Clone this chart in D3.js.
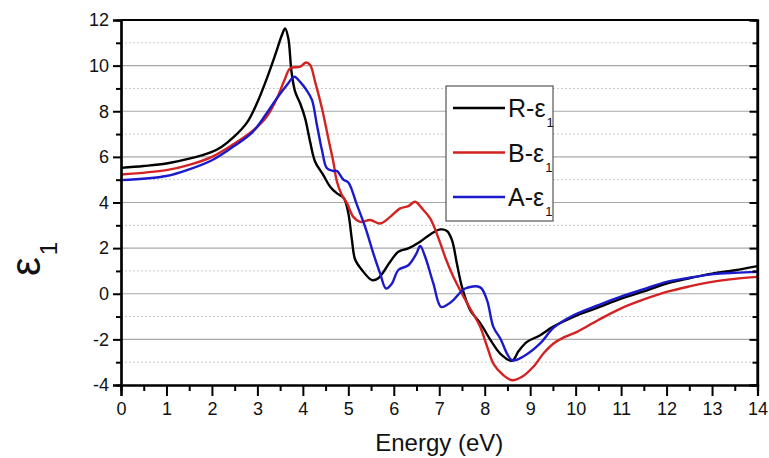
<!DOCTYPE html>
<html><head><meta charset="utf-8">
<script src="https://cdn.jsdelivr.net/npm/d3@7"></script>
<style>
html,body{margin:0;padding:0;background:#fff;}
svg{display:block;}
text{font-family:"Liberation Sans",Arial,sans-serif;fill:#111;}
</style></head>
<body><svg id="chart" width="769" height="458"></svg>
<script>
// ---- data ----
const seriesNames = ["R-ε", "B-ε", "A-ε"];
const seriesColors = ["#000000", "#d42222", "#1a1acc"];

const energyR = [0,0.5,1.0,1.5,2.0,2.2,2.47,2.77,2.99,3.2,3.39,3.54,3.61,3.68,3.75,3.83,3.94,4.05,4.16,4.27,4.45,4.6,4.75,4.9,5.0,5.08,5.15,5.3,5.52,5.66,5.92,6.1,6.32,6.58,6.8,7.02,7.17,7.28,7.39,7.5,7.68,7.9,8.15,8.34,8.6,8.75,8.93,9.22,9.5,9.95,10.5,11.0,11.5,12.0,12.5,13.0,13.5,14.0];
const epsR    = [5.52,5.6,5.71,5.92,6.22,6.42,6.85,7.5,8.35,9.4,10.46,11.34,11.63,11.2,9.73,8.86,8.35,7.69,6.66,5.79,5.2,4.69,4.4,4.2,3.53,2.35,1.5,1.04,0.6,0.68,1.4,1.84,1.99,2.28,2.6,2.82,2.75,2.35,1.3,0.3,-0.72,-1.29,-2.1,-2.62,-2.94,-2.5,-2.11,-1.82,-1.45,-1.01,-0.6,-0.21,0.1,0.45,0.68,0.88,1.03,1.21];

const energyB = [0,1.0,1.5,2.0,2.47,2.9,3.2,3.43,3.61,3.72,3.94,4.07,4.16,4.27,4.42,4.56,4.67,4.75,4.86,4.97,5.11,5.26,5.48,5.7,5.92,6.14,6.32,6.47,6.62,6.8,6.98,7.15,7.31,7.5,7.68,7.9,8.05,8.2,8.4,8.6,8.82,9.07,9.3,9.5,9.75,10.03,10.5,11.0,11.5,12.0,12.5,13.0,13.5,14.0];
const epsB    = [5.23,5.42,5.65,6.0,6.55,7.15,7.75,8.57,9.44,9.88,9.95,10.14,10.03,9.29,8.13,6.81,5.79,4.91,4.32,3.97,3.37,3.15,3.23,3.08,3.37,3.74,3.84,4.03,3.74,3.3,2.45,1.5,0.74,0.0,-0.65,-1.45,-2.3,-3.1,-3.55,-3.79,-3.64,-3.2,-2.6,-2.2,-1.9,-1.67,-1.15,-0.64,-0.25,0.08,0.32,0.52,0.65,0.74];

const energyA = [0,1.0,1.5,2.0,2.47,2.9,3.2,3.43,3.65,3.81,3.94,4.08,4.2,4.3,4.42,4.53,4.67,4.75,4.89,5.0,5.18,5.37,5.55,5.7,5.83,5.96,6.1,6.32,6.5,6.58,6.69,6.87,7.04,7.2,7.31,7.57,7.9,8.05,8.19,8.34,8.6,8.85,9.22,9.51,9.95,10.5,10.98,11.5,12.0,12.5,13.03,13.5,14.0];
const epsA    = [4.98,5.16,5.45,5.85,6.45,7.1,7.9,8.57,9.15,9.51,9.29,8.93,8.5,7.5,6.3,5.5,5.38,5.38,5.0,4.88,3.95,2.93,1.77,0.89,0.23,0.45,1.04,1.25,1.77,2.1,1.62,0.45,-0.58,-0.45,-0.28,0.23,0.28,-0.28,-1.45,-1.95,-2.91,-2.75,-2.18,-1.5,-0.94,-0.5,-0.14,0.2,0.52,0.7,0.86,0.92,0.96];

const xTicks = [0,1,2,3,4,5,6,7,8,9,10,11,12,13,14];
const yTicks = [-4,-2,0,2,4,6,8,10,12];
const xLabel = "Energy (eV)";

// ---- layout ----
const svg = d3.select("#chart");
const L = 121, R = 757.5, T = 20, B = 385;
const x = d3.scaleLinear().domain([0,14]).range([L,R]);
const y = d3.scaleLinear().domain([-4,12]).range([B,T]);

const minorY = d3.range(-3, 12, 2);
const minorX = d3.range(0.5, 14, 1);
const fmt = d => String(d);

// gridlines
const g = svg.append("g");
g.selectAll(".gmaj").data(yTicks.filter(v=>v>-4 && v<12)).enter().append("line")
  .attr("x1",L).attr("x2",R).attr("y1",d=>y(d)).attr("y2",d=>y(d))
  .attr("stroke","#a8a8a8").attr("stroke-width",1.2);
g.selectAll(".gmin").data(minorY).enter().append("line")
  .attr("x1",L).attr("x2",R).attr("y1",d=>y(d)).attr("y2",d=>y(d))
  .attr("stroke","#c8c8c8").attr("stroke-width",1).attr("stroke-dasharray","2,2");

// curves
const series = [
  {e: energyR, v: epsR},
  {e: energyB, v: epsB},
  {e: energyA, v: epsA}
];
const line = d3.line().x(d=>x(d[0])).y(d=>y(d[1])).curve(d3.curveCatmullRom.alpha(0.5));
series.forEach((s,i)=>{
  const pts = s.e.map((e,j)=>[e, s.v[j]]);
  svg.append("path").datum(pts).attr("d",line)
    .attr("fill","none").attr("stroke",seriesColors[i]).attr("stroke-width",2.4)
    .attr("stroke-linejoin","round");
});

// axes
const fs = 18;
const xAxis = d3.axisBottom(x).tickValues(xTicks).tickSize(11).tickPadding(6).tickFormat(fmt);
svg.append("g").attr("transform",`translate(0,${B})`).call(xAxis);
const xMinor = d3.axisBottom(x).tickValues(minorX).tickSize(6).tickFormat("");
svg.append("g").attr("transform",`translate(0,${B})`).call(xMinor);

const yAxis = d3.axisLeft(y).tickValues(yTicks).tickSize(8).tickPadding(4).tickFormat(fmt);
svg.append("g").attr("transform",`translate(${L},0)`).call(yAxis);
const yMinor = d3.axisLeft(y).tickValues(minorY).tickSize(5).tickFormat("");
svg.append("g").attr("transform",`translate(${L},0)`).call(yMinor);

const yR = d3.axisLeft(y).tickValues(yTicks).tickSize(8).tickFormat("");
svg.append("g").attr("transform",`translate(${R},0)`).call(yR);
const yRm = d3.axisLeft(y).tickValues(minorY).tickSize(5).tickFormat("");
svg.append("g").attr("transform",`translate(${R},0)`).call(yRm);

svg.selectAll(".domain").attr("stroke","#000").attr("stroke-width",2.2);
svg.selectAll(".tick line").attr("stroke","#000").attr("stroke-width",2);
svg.selectAll(".tick text").attr("font-size",fs).attr("font-family",null).style("fill","#111");

// frame top/right
svg.append("line").attr("x1",L).attr("x2",R).attr("y1",T).attr("y2",T).attr("stroke","#000").attr("stroke-width",2.2);
svg.append("line").attr("x1",R).attr("x2",R).attr("y1",T).attr("y2",B).attr("stroke","#000").attr("stroke-width",2.2);

// axis titles
svg.append("text").attr("x",(L+R)/2).attr("y",451).attr("text-anchor","middle")
  .attr("font-size",24).text(xLabel);

const yl = svg.append("text").attr("transform","translate(40,276) rotate(-90)");
yl.append("tspan").attr("font-size",42).text("ε");
yl.append("tspan").attr("font-size",24).attr("dy",17).attr("dx",2).text("1");

// legend
const lg = svg.append("g");
lg.append("rect").attr("x",446).attr("y",86).attr("width",107).attr("height",135)
  .attr("fill","#fff").attr("stroke","#555").attr("stroke-width",1.2);
const ly = [108,152.5,197];
seriesNames.forEach((n,i)=>{
  lg.append("line").attr("x1",453).attr("x2",505).attr("y1",ly[i]).attr("y2",ly[i])
    .attr("stroke",seriesColors[i]).attr("stroke-width",2.4);
  const t = lg.append("text").attr("x",508).attr("y",ly[i]+9).attr("font-size",25);
  t.append("tspan").text(n);
  t.append("tspan").attr("font-size",13).attr("dy",10).attr("dx",1).text("1");
});
</script></body></html>
